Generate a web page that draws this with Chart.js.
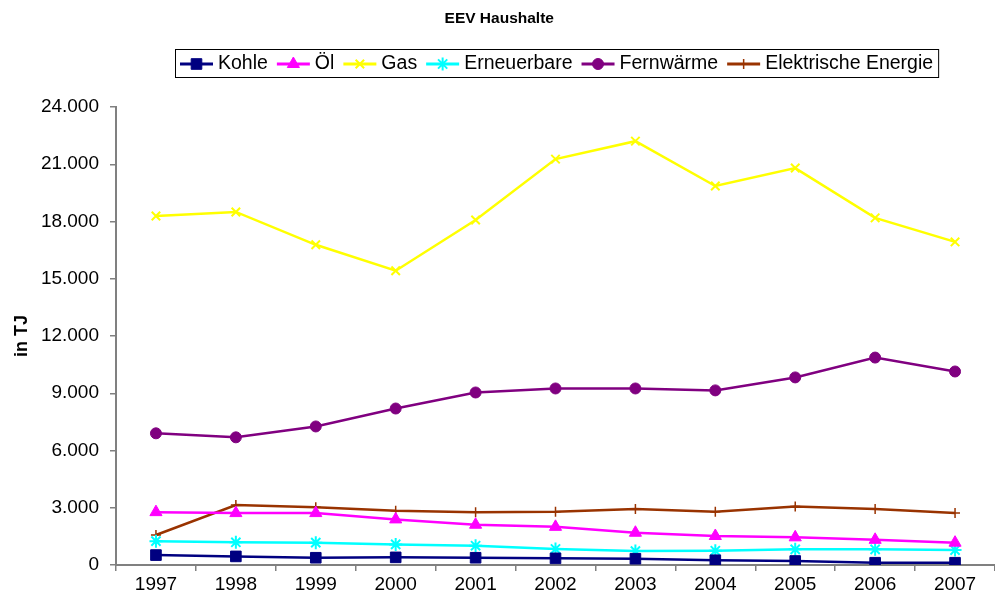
<!DOCTYPE html>
<html>
<head>
<meta charset="utf-8">
<script src="https://cdn.jsdelivr.net/npm/chart.js@4/dist/chart.umd.min.js"></script>
<style>
  html, body { margin: 0; padding: 0; background: #fff; }
  #wrap { width: 995px; height: 607px; }
</style>
</head>
<body>
<div id="wrap"><canvas id="chartCanvas" width="995" height="607"></canvas></div>
<script>
// Data (TJ)
const years = ["1997", "1998", "1999", "2000", "2001", "2002", "2003", "2004", "2005", "2006", "2007"];
const kohle = [520, 450, 380, 400, 380, 350, 330, 250, 210, 120, 120];
const oel = [2770, 2720, 2720, 2390, 2110, 2000, 1690, 1520, 1450, 1320, 1170];
const gas = [18290, 18500, 16780, 15420, 18080, 21270, 22210, 19860, 20800, 18190, 16930];
const erneuerbare = [1250, 1190, 1170, 1080, 1010, 840, 730, 750, 820, 820, 780];
const fernwaerme = [6900, 6690, 7260, 8200, 9040, 9250, 9250, 9150, 9830, 10870, 10140];
const elektrisch = [1570, 3140, 3030, 2840, 2770, 2790, 2930, 2790, 3070, 2930, 2720];

const FONT = "'Liberation Sans', Arial, sans-serif";

// German thousands separator
function fmt(v) {
    return String(v).replace(/\B(?=(\d{3})+(?!\d))/g, ".");
}

function series(label, data, color, style, radius, bw) {
    return {
        label: label,
        data: data,
        borderColor: color,
        backgroundColor: color,
        borderWidth: 2.5,
        pointStyle: style,
        pointRadius: radius,
        pointBorderWidth: bw,
        pointBackgroundColor: color,
        pointBorderColor: color,
        tension: 0
    };
}

// Legend with line + marker samples, in a framed box above the plot
const boxLegend = {
    id: "boxLegend",
    afterDraw(chart) {
        const ctx = chart.ctx;
        ctx.save();
        ctx.font = "19.5px " + FONT;
        const sample = 33, gapText = 5, gapItem = 9, pad = 5;
        let total = pad * 2;
        chart.data.datasets.forEach((ds, i) => {
            total += sample + gapText + ctx.measureText(ds.label).width;
            if (i < chart.data.datasets.length - 1) total += gapItem;
        });
        const top = 49, h = 28;
        const left = Math.round(556.5 - total / 2);
        ctx.strokeStyle = "#000";
        ctx.lineWidth = 1;
        ctx.strokeRect(left + 0.5, top + 0.5, total, h);
        const cy = top + h / 2 + 1;
        let x = left + pad;
        chart.data.datasets.forEach((ds) => {
            ctx.strokeStyle = ds.borderColor;
            ctx.lineWidth = 3;
            ctx.beginPath();
            ctx.moveTo(x, cy);
            ctx.lineTo(x + sample, cy);
            ctx.stroke();
            ctx.fillStyle = ds.pointBackgroundColor;
            ctx.strokeStyle = ds.pointBorderColor;
            ctx.lineWidth = ds.pointBorderWidth;
            Chart.helpers.drawPoint(ctx, {
                pointStyle: ds.pointStyle,
                radius: ds.pointRadius,
                rotation: 0,
                borderWidth: ds.pointBorderWidth
            }, x + sample / 2, cy);
            x += sample + gapText;
            ctx.fillStyle = "#000";
            ctx.textBaseline = "middle";
            ctx.textAlign = "left";
            ctx.fillText(ds.label, x, cy);
            x += ctx.measureText(ds.label).width + gapItem;
        });
        ctx.restore();
    }
};

const ctx = document.getElementById("chartCanvas").getContext("2d");
window.myChart = new Chart(ctx, {
    type: "line",
    data: {
        labels: years,
        datasets: [
            series("Kohle", kohle, "#000080", "rect", 7.5, 1),
            series("Öl", oel, "#FF00FF", "triangle", 7, 1),
            series("Gas", gas, "#FFFF00", "crossRot", 6, 2),
            series("Erneuerbare", erneuerbare, "#00FFFF", "star", 6.5, 2),
            series("Fernwärme", fernwaerme, "#800080", "circle", 5.5, 1),
            series("Elektrische Energie", elektrisch, "#993300", "cross", 5, 1.5)
        ]
    },
    options: {
        responsive: false,
        animation: false,
        layout: { padding: { top: 0, left: 0, bottom: 0, right: -3.5 }, autoPadding: false },
        plugins: {
            legend: { display: false },
            tooltip: { enabled: false },
            title: {
                display: true,
                text: "EEV Haushalte",
                color: "#000",
                font: { family: FONT, size: 15.5, weight: "bold", lineHeight: 1.2 },
                padding: { top: 9, bottom: 79.4 },
                position: "top"
            }
        },
        scales: {
            x: {
                offset: true,
                grid: {
                    offset: true,
                    drawOnChartArea: false,
                    drawTicks: true,
                    tickLength: 6,
                    color: "#808080",
                    lineWidth: 1.5
                },
                border: { color: "#808080", width: 2 },
                ticks: {
                    color: "#000",
                    font: { family: FONT, size: 19 },
                    padding: 2,
                    maxRotation: 0,
                    autoSkip: false
                },
                afterFit(scale) {
                    scale.height = 42;
                    scale.paddingLeft = 0;
                    scale.paddingRight = 0;
                }
            },
            y: {
                min: 0,
                max: 24000,
                grid: {
                    drawOnChartArea: false,
                    drawTicks: true,
                    tickLength: 6,
                    color: "#808080",
                    lineWidth: 1.5
                },
                border: { color: "#808080", width: 2 },
                ticks: {
                    stepSize: 3000,
                    color: "#000",
                    font: { family: FONT, size: 19 },
                    padding: 11,
                    callback: (v) => fmt(v)
                },
                title: {
                    display: true,
                    text: "in TJ",
                    color: "#000",
                    font: { family: FONT, size: 18, weight: "bold" },
                    padding: { top: 11, bottom: 0 }
                },
                afterFit(scale) {
                    scale.width = 116;
                    scale.paddingTop = 0;
                    scale.paddingBottom = 0;
                }
            }
        }
    },
    plugins: [boxLegend]
});
</script>
</body>
</html>
